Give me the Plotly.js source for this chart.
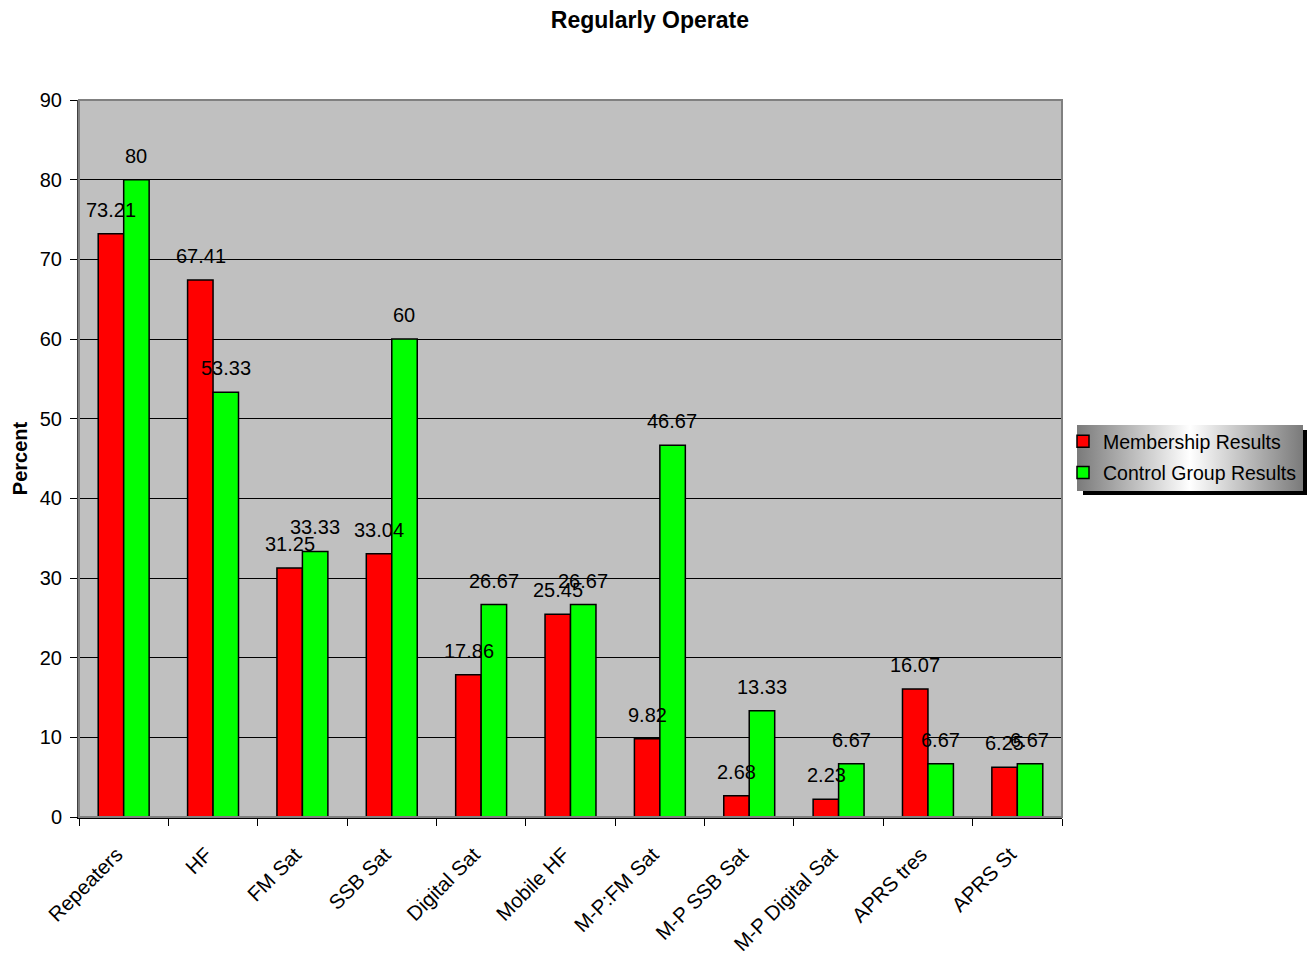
<!DOCTYPE html>
<html>
<head>
<meta charset="utf-8">
<script src="https://cdn.plot.ly/plotly-3.0.1.min.js"></script>
<style>
  html, body { margin: 0; padding: 0; background: #ffffff; }
  #chart { width: 1313px; height: 957px; }
</style>
</head>
<body>
<div id="chart"></div>
<script>
// Survey categories and results (percent)
const categories = ['Repeaters', 'HF', 'FM Sat', 'SSB Sat', 'Digital Sat', 'Mobile HF',
  'M-P:FM Sat', 'M-P SSB Sat', 'M-P Digital Sat', 'APRS tres', 'APRS St'];
const membership = [73.21, 67.41, 31.25, 33.04, 17.86, 25.45, 9.82, 2.68, 2.23, 16.07, 6.25];
const controlGroup = [80, 53.33, 33.33, 60, 26.67, 26.67, 46.67, 13.33, 6.67, 6.67, 6.67];
const seriesNames = ['Membership Results', 'Control Group Results'];
const yTicks = [0, 10, 20, 30, 40, 50, 60, 70, 80, 90];

const FONT = 'Liberation Sans, Arial, sans-serif';

const traces = [
  {
    type: 'bar', name: seriesNames[0], x: categories, y: membership, legendgroup: 'm',
    marker: { color: '#ff0000', line: { color: '#000000', width: 1.5 } }
  },
  {
    type: 'bar', name: seriesNames[1], x: categories, y: controlGroup, legendgroup: 'c',
    marker: { color: '#00ff00', line: { color: '#000000', width: 1.5 } }
  }
];

// Value labels above each bar
const annotations = [];
[membership, controlGroup].forEach((vals, s) => {
  vals.forEach((v, i) => {
    annotations.push({
      x: categories[i], y: v, xref: 'x', yref: 'y',
      text: String(v), showarrow: false,
      xanchor: 'center', yanchor: 'bottom',
      xshift: s === 0 ? -12.5 : 12.5, yshift: 11,
      font: { family: FONT, size: 20, color: '#000000' }
    });
  });
});

// Legend background gradient and shadow
const legendBg = 'data:image/svg+xml;utf8,' + encodeURIComponent(
  '<svg xmlns="http://www.w3.org/2000/svg" width="224" height="66" preserveAspectRatio="none">' +
  '<defs><linearGradient id="g" x1="0" x2="1" y1="0" y2="0">' +
  '<stop offset="0" stop-color="#7a7a7a"/><stop offset="0.5" stop-color="#ffffff"/>' +
  '<stop offset="1" stop-color="#7a7a7a"/></linearGradient></defs>' +
  '<rect width="224" height="66" fill="url(#g)"/></svg>');

const PW = 983, PH = 717, PL = 79, PB = 817;

const layout = {
  width: 1313, height: 957,
  margin: { l: 79, r: 251, t: 100, b: 140 },
  paper_bgcolor: '#ffffff',
  plot_bgcolor: '#c0c0c0',
  font: { family: FONT, size: 20, color: '#000000' },
  title: {
    text: '<b>Regularly Operate</b>',
    font: { family: FONT, size: 23, color: '#000000' },
    x: 0.495, xanchor: 'center', y: 0.979, yanchor: 'middle'
  },
  barmode: 'group',
  bargap: 0.43,
  bargroupgap: 0,
  showlegend: true,
  legend: {
    xref: 'container', yref: 'container',
    x: 1063 / 1313, xanchor: 'left', y: 1 - 422 / 957, yanchor: 'top',
    bgcolor: 'rgba(0,0,0,0)', borderwidth: 0,
    font: { family: FONT, size: 19.5, color: '#000000' },
    itemwidth: 30, tracegroupgap: 3, traceorder: 'grouped'
  },
  xaxis: {
    type: 'category',
    tickangle: -45,
    tickson: 'boundaries',
    ticks: 'outside', ticklen: 7, tickcolor: '#000000', tickwidth: 1,
    ticklabelstandoff: 16,
    ticklabelshift: -7,
    showline: true, linecolor: '#000000', linewidth: 1.5,
    showgrid: false, zeroline: false,
    tickfont: { family: FONT, size: 20.5, color: '#000000' }
  },
  yaxis: {
    range: [0, 90],
    tickvals: yTicks,
    ticks: 'outside', ticklen: 7, tickcolor: '#000000', tickwidth: 1,
    ticklabelstandoff: 4,
    showline: true, linecolor: '#404040', linewidth: 2,
    showgrid: true, gridcolor: '#000000', gridwidth: 1,
    zeroline: false,
    tickfont: { family: FONT, size: 20, color: '#000000' },
    title: { text: '<b>Percent</b>', font: { family: FONT, size: 20, color: '#000000' }, standoff: 7 }
  },
  annotations: annotations,
  shapes: [
    // plot frame (top and right edges)
    { type: 'rect', xref: 'paper', yref: 'paper', x0: 0, x1: 1, y0: 0, y1: 1,
      line: { color: '#808080', width: 2 }, fillcolor: 'rgba(0,0,0,0)', layer: 'above' },
    // legend drop shadow
    { type: 'rect', xref: 'paper', yref: 'paper',
      x0: (1083 - PL) / PW, x1: (1307 - PL) / PW,
      y0: (PB - 495) / PH, y1: (PB - 430) / PH,
      line: { width: 0 }, fillcolor: '#000000', layer: 'below' }
  ],
  images: [
    { source: legendBg, xref: 'paper', yref: 'paper',
      x: (1077 - PL) / PW, y: (PB - 425) / PH,
      sizex: 226 / PW, sizey: 66 / PH, sizing: 'stretch',
      xanchor: 'left', yanchor: 'top', layer: 'above' }
  ]
};

Plotly.newPlot('chart', traces, layout, { displayModeBar: false, staticPlot: true });
</script>
</body>
</html>
